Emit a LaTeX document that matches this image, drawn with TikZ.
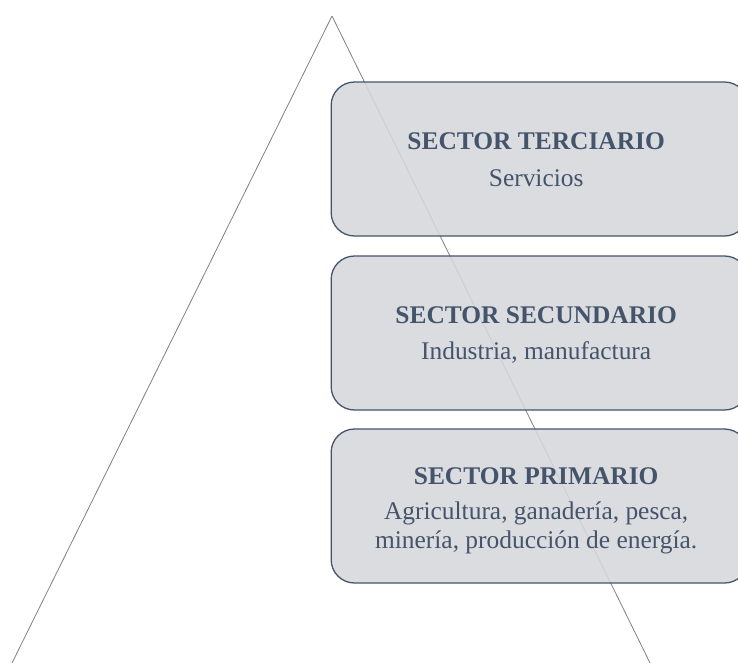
\documentclass[tikz,border=0pt]{standalone}
\usepackage{fontspec}
\setmainfont{Liberation Serif}
\usepackage{tikz}

\definecolor{slateText}{RGB}{68,84,106}
\definecolor{boxFill}{RGB}{213,215,220}
\definecolor{edgeGray}{RGB}{130,130,130}

\begin{document}
\begin{tikzpicture}[x=0.03cm, y=-0.03cm,
    sectorbox/.style = {draw=slateText, line width=1.1pt, fill=boxFill, fill opacity=0.88,
                        rounded corners=0.7cm, minimum width=12.5cm, minimum height=4.62cm},
    sectortext/.style = {align=center, text=slateText, inner sep=0pt,
                        font=\fontsize{21.7}{25.5}\selectfont},
    sideline/.style = {draw=edgeGray, line width=0.7pt}]
      \useasboundingbox (0,0) rectangle (738,663);
      \clip (0,0) rectangle (738,663);

      % Triangle corners
      \coordinate (apex) at (332,16);
      \coordinate (baseleft) at (12,663);
      \coordinate (baseright) at (650,663);

      % Draw sides
      \draw[sideline] (apex) -- (baseleft);
      \draw[sideline] (apex) -- (baseright);

      % Sector boxes
      \node[sectorbox] (terciario) at (539.5,159) {};
      \node[sectorbox] (secundario) at (539.5,333) {};
      \node[sectorbox] (primario) at (539.5,506) {};

      % Box texts
      \node[sectortext] (terciariotext) at ([xshift=-0.1cm, yshift=-0.03cm]terciario.center)
          {\textbf{SECTOR TERCIARIO}\\[6pt] Servicios};
      \node[sectortext] (secundariotext) at ([xshift=-0.1cm, yshift=-0.06cm]secundario.center)
          {\textbf{SECTOR SECUNDARIO}\\[6pt] Industria, manufactura};
      \node[sectortext] (primariotext) at ([xshift=-0.1cm, yshift=-0.15cm]primario.center)
          {\textbf{SECTOR PRIMARIO}\\[4pt] Agricultura, ganadería, pesca,\\ minería, producción de energía.};
  \end{tikzpicture}
\end{document}
